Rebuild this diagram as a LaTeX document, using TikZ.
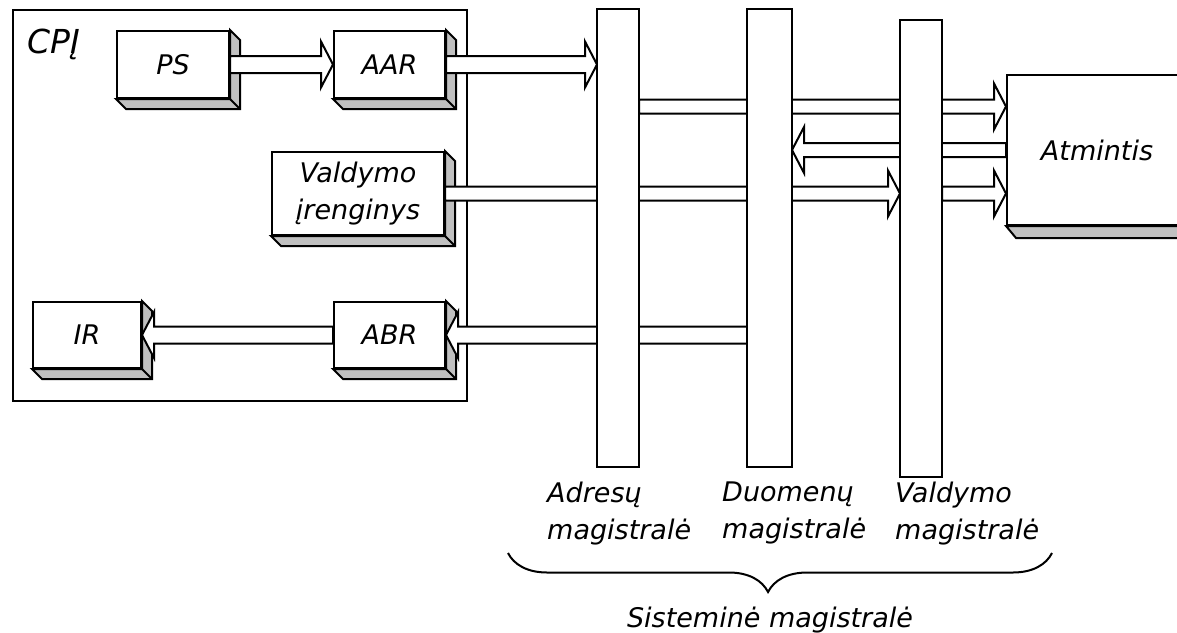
\documentclass[tikz,border=0pt]{standalone}
\usepackage{fontspec}
\setmainfont{DejaVu Sans}
\usetikzlibrary{calc, decorations.pathreplacing}
\definecolor{ShadeGray}{HTML}{C0C0C0}
\newcommand{\lblfont}{\fontsize{27}{37}\selectfont\itshape}
% wide hollow arrow, horizontal, from #2 to #3, half shaft width #1
\newcommand{\fatarrow}[3][8pt]{%
  \draw[fatarr] let \p1=(#2), \p2=(#3), \n1={ifthenelse(\x2>\x1,12,-12)} in
    (\x1,\y1+#1) -- (\x2-\n1,\y1+#1) -- (\x2-\n1,\y1+23pt) -- (\x2,\y1)
    -- (\x2-\n1,\y1-23pt) -- (\x2-\n1,\y1-#1) -- (\x1,\y1-#1) -- cycle;}
\begin{document}
\begin{tikzpicture}[x=1pt, y=-1pt,
    unit/.style={draw, fill=white, line width=2pt, inner sep=0pt, align=center, font=\lblfont},
    busslot/.style={inner sep=0pt, outer sep=0pt},
    busbar/.style={draw, fill=white, line width=2pt},
    boxshade/.style={draw, fill=ShadeGray, line width=2pt, line join=miter},
    fatarr/.style={draw, fill=white, line width=2pt, line join=miter},
    lbl/.style={inner sep=0pt, font=\lblfont, align=left}
]
  \useasboundingbox (0,0) rectangle (1177,632);
  \clip (0,0) rectangle (1177,632);

  % CPU frame
  \node[draw, line width=2pt, minimum width=454pt, minimum height=391pt, anchor=north west] (cpu) at (12,9) {};
  \node[anchor=base west, inner sep=0pt, font=\fontsize{33}{40}\selectfont\itshape] (cpulbl) at (27,53) {CPĮ};

  % Units
  \node[unit, minimum width=112pt, minimum height=67pt] (ps) at (173,64.5) {PS};
  \node[unit, minimum width=111pt, minimum height=67pt] (aar) at (389.5,64.5) {AAR};
  \node[unit, minimum width=172pt, minimum height=83pt] (ctrl) at (358,193.5) {Valdymo\\įrenginys};
  \node[unit, minimum width=108pt, minimum height=66pt] (ir) at (87,335) {IR};
  \node[unit, minimum width=111pt, minimum height=66pt] (abr) at (389.5,335) {ABR};
  \foreach \bx in {ps,aar,ctrl,ir,abr}{
    \draw[boxshade] (\bx.north east) -- ++(10,10) -- ($(\bx.south east)+(10,10)$)
      -- ($(\bx.south west)+(10,10)$) -- (\bx.south west) -- (\bx.south east) -- cycle;
    \draw[line width=2pt] (\bx.south east) -- ++(10,10);
  }

  % Memory
  \node[unit, minimum width=180pt, minimum height=150pt] (mem) at (1097,150) {Atmintis};
  \draw[boxshade] (mem.south west) -- ++(10,12) -- ($(mem.south east)+(10,12)$) -- (mem.south east) -- cycle;

  % Bus slots (drawn after the transfers)
  \node[busslot, minimum width=42pt, minimum height=458pt] (abus) at (618,238) {};
  \node[busslot, minimum width=45pt, minimum height=458pt] (dbus) at (769.5,238) {};
  \node[busslot, minimum width=42pt, minimum height=457pt] (cbus) at (921,248.5) {};
  \coordinate (rowB) at ($(mem.west)+(0,-43.5)$);

  % Transfers
  \fatarrow[8.5pt]{ps.east}{aar.west}
  \fatarrow[8.5pt]{aar.east}{aar.east -| abus.west}
  \fatarrow[7pt]{abus.east |- rowB}{mem.west |- rowB}
  \fatarrow[7pt]{mem.west}{mem.west -| dbus.east}
  \fatarrow[7pt]{ctrl.east}{ctrl.east -| cbus.west}
  \fatarrow[7pt]{cbus.east |- ctrl.east}{mem.west |- ctrl.east}
  \fatarrow[8.5pt]{dbus.west |- abr.east}{abr.east}
  \fatarrow[8.5pt]{abr.west}{ir.east}

  % Buses
  \foreach \bb in {abus,dbus,cbus}{
    \draw[busbar] (\bb.north west) rectangle (\bb.south east);
  }

  \node[lbl, anchor=north west] (albl) at (547,482) {Adresų\\magistralė};
  \node[lbl, anchor=north west] (dlbl) at (722,482) {Duomenų\\magistralė};
  \node[lbl, anchor=north west] (clbl) at (895,482) {Valdymo\\magistralė};

  \draw[line width=2pt, decorate, decoration={brace, mirror, amplitude=39pt, aspect=0.478}]
    (508,553) -- (1052,553);
  \node[anchor=base, inner sep=0pt, font=\lblfont] (syslbl) at (770,627) {Sisteminė magistralė};
\end{tikzpicture}
\end{document}
